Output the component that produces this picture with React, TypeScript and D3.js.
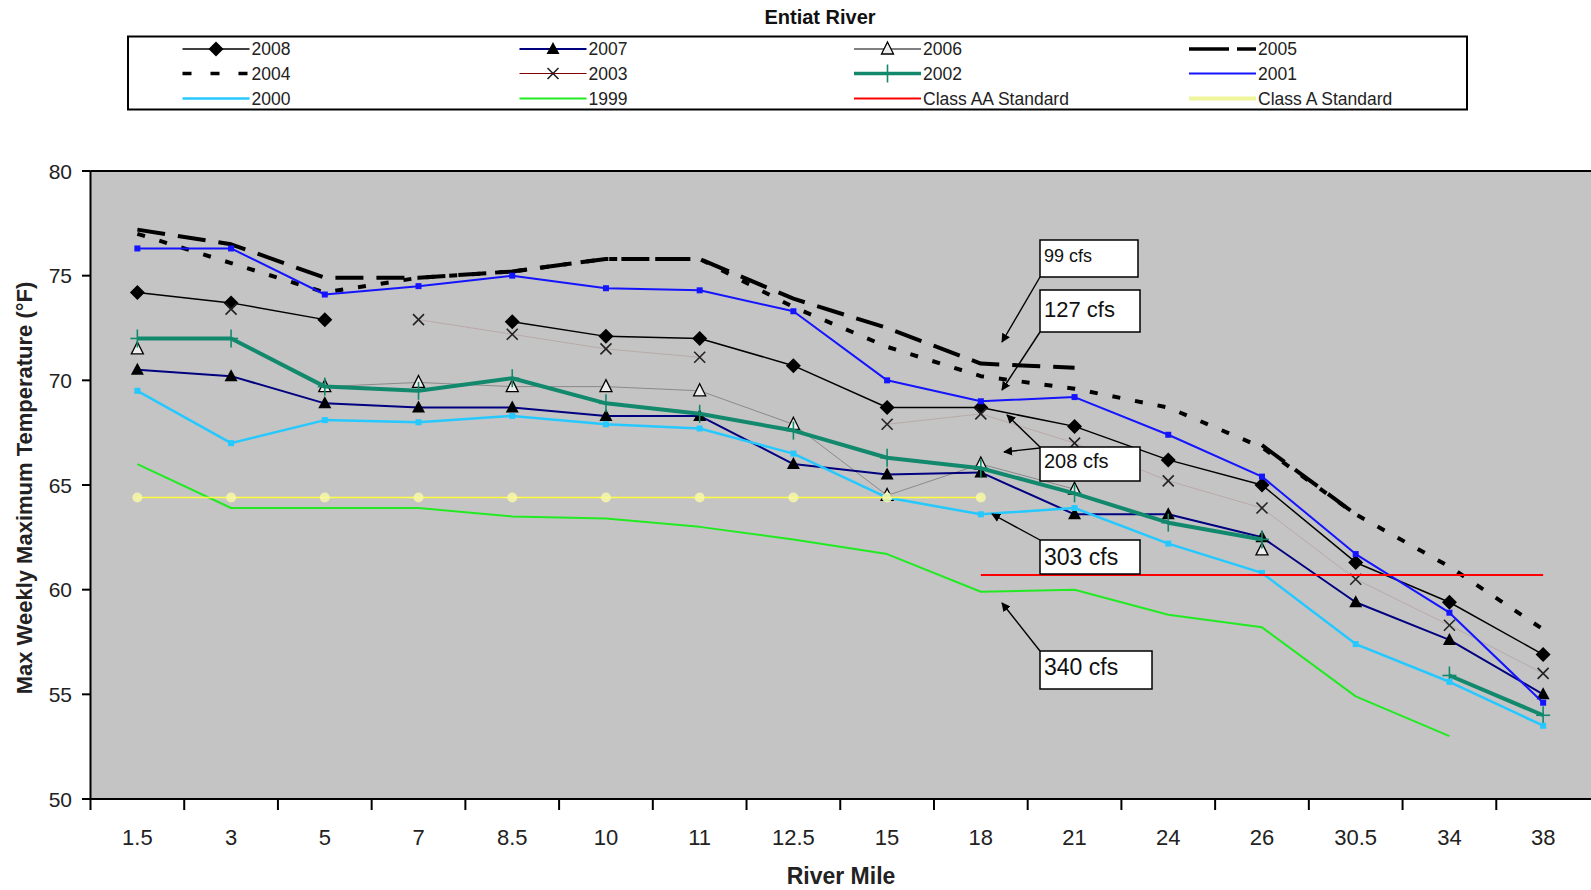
import React from 'react';
import * as d3 from 'd3';

const categories = ["1.5", "3", "5", "7", "8.5", "10", "11", "12.5", "15", "18", "21", "24", "26", "30.5", "34", "38"];
const y2008 = [74.2, 73.7, 72.9, null, 72.8, 72.1, 72.0, 70.7, 68.7, 68.7, 67.8, 66.2, 65.0, 61.3, 59.4, 56.9];
const y2007 = [70.5, 70.2, 68.9, 68.7, 68.7, 68.3, 68.3, 66.0, 65.5, 65.6, 63.6, 63.6, 62.5, 59.4, 57.6, 55.0];
const y2006 = [71.5, null, 69.7, 69.9, 69.7, 69.7, 69.5, 67.9, 64.5, 66.0, 64.8, null, 61.9, null, null, null];
const y2005 = [77.2, 76.5, 74.9, 74.9, 75.2, 75.8, 75.8, 73.9, 72.5, 70.8, 70.6, null, 66.9, 63.6, null, null];
const y2004 = [77.0, 75.6, 74.2, 74.9, 75.2, 75.8, 75.8, 73.5, 71.6, 70.2, 69.6, 68.7, 66.8, 63.6, 61.1, 58.1];
const y2003 = [null, 73.4, null, 72.9, 72.2, 71.5, 71.1, null, 67.9, 68.4, 67.0, 65.2, 63.9, 60.5, 58.3, 56.0];
const y2002 = [72.0, 72.0, 69.7, 69.5, 70.1, 68.9, 68.4, 67.6, 66.3, 65.8, 64.6, 63.2, 62.4, null, 55.9, 54.0];
const y2001 = [76.3, 76.3, 74.1, 74.5, 75.0, 74.4, 74.3, 73.3, 70.0, 69.0, 69.2, 67.4, 65.4, 61.7, 58.9, 54.6];
const y2000 = [69.5, 67.0, 68.1, 68.0, 68.3, 67.9, 67.7, 66.5, 64.4, 63.6, 63.9, 62.2, 60.8, 57.4, 55.6, 53.5];
const y1999 = [66.0, 63.9, 63.9, 63.9, 63.5, 63.4, 63.0, 62.4, 61.7, 59.9, 60.0, 58.8, 58.2, 54.9, 53.0, null];
const classAA = [null, null, null, null, null, null, null, null, null, 60.7, 60.7, 60.7, 60.7, 60.7, 60.7, 60.7];
const classA = [64.4, 64.4, 64.4, 64.4, 64.4, 64.4, 64.4, 64.4, 64.4, 64.4, null, null, null, null, null, null];
const yTicks = [50, 55, 60, 65, 70, 75, 80];

const annotations = [
  { label: "99 cfs", box: [1040, 240, 98, 37], size: 18, base: 262, arrows: [[1040, 277, 1002, 342]] },
  { label: "127 cfs", box: [1040, 290, 100, 42], size: 22, base: 317, arrows: [[1040, 332, 1002, 390]] },
  { label: "208 cfs", box: [1040, 447, 100, 34], size: 20, base: 468, arrows: [[1040, 447, 1007, 415], [1040, 448, 1004, 452]] },
  { label: "303 cfs", box: [1040, 540, 100, 34], size: 23, base: 565, arrows: [[1040, 540, 992, 514]] },
  { label: "340 cfs", box: [1040, 651, 112, 38], size: 23, base: 675, arrows: [[1040, 651, 1002, 603]] },
];

const FONT = "'Liberation Sans', Arial, Helvetica, sans-serif";

const x = d3.scaleBand<string>().domain(categories).range([90.5, 1590]);
const y = d3.scaleLinear().domain([50, 80]).range([799, 171]);
const cx = (i: number) => (x(categories[i]) as number) + x.bandwidth() / 2;

type Series = {
  name: string; values: (number | null)[]; color: string; width: number;
  dash?: string; legendDash?: string; opacity?: number; marker: string;
  legendColor?: string; legendWidth?: number;
};

const series: Series[] = [
  { name: "2008", values: y2008, color: "#000", width: 1.5, marker: "diamond" },
  { name: "2007", values: y2007, color: "#000080", width: 2, marker: "tri" },
  { name: "2006", values: y2006, color: "#000", width: 1, opacity: 0.3, marker: "triOpen" },
  { name: "2005", values: y2005, color: "#000", width: 4, dash: "28,13", legendDash: "40,8", marker: "none" },
  { name: "2004", values: y2004, color: "#000", width: 4, dash: "8,15", legendDash: "9,19", marker: "none" },
  { name: "2003", values: y2003, color: "#800000", width: 1, opacity: 0.14, marker: "x" },
  { name: "2002", values: y2002, color: "#12896d", width: 4, marker: "plus" },
  { name: "2001", values: y2001, color: "#1414ff", width: 2, marker: "sq" },
  { name: "2000", values: y2000, color: "#25c8ff", width: 2.5, marker: "sq" },
  { name: "1999", values: y1999, color: "#22ea22", width: 2, marker: "none" },
  { name: "Class AA Standard", values: classAA, color: "#ff0000", width: 2, marker: "none" },
  { name: "Class A Standard", values: classA, color: "#ffff40", width: 1.5, marker: "dot", legendColor: "#eef59a", legendWidth: 4 },
];

function Marker({ type, px, py, color, k }: { type: string; px: number; py: number; color: string; k: string }) {
  switch (type) {
    case "diamond":
      return <path key={k} d={`M${px},${py - 7.5}L${px + 7.5},${py}L${px},${py + 7.5}L${px - 7.5},${py}Z`} fill="#000" />;
    case "tri":
      return <path key={k} d={`M${px},${py - 7}L${px + 6.5},${py + 5}L${px - 6.5},${py + 5}Z`} fill="#000" />;
    case "triOpen":
      return <path key={k} d={`M${px},${py - 7}L${px + 6},${py + 5}L${px - 6},${py + 5}Z`} fill="#eeeeee" stroke="#000" strokeWidth={1.3} />;
    case "x":
      return (
        <g key={k} stroke="#222" strokeWidth={1.6}>
          <line x1={px - 5.5} y1={py - 5.5} x2={px + 5.5} y2={py + 5.5} />
          <line x1={px - 5.5} y1={py + 5.5} x2={px + 5.5} y2={py - 5.5} />
        </g>
      );
    case "plus":
      return (
        <g key={k} stroke={color} strokeWidth={1.6}>
          <line x1={px} y1={py - 9} x2={px} y2={py + 9} />
          <line x1={px - 7} y1={py} x2={px + 7} y2={py} />
        </g>
      );
    case "sq":
      return <rect key={k} x={px - 3} y={py - 3} width={6} height={6} fill={color} />;
    case "dot":
      return <circle key={k} cx={px} cy={py} r={5} fill="#f8f8a8" opacity={0.85} />;
    default:
      return null;
  }
}

export default function App() {
  const line = d3.line<number | null>()
    .defined((d) => d != null)
    .x((_, i) => cx(i))
    .y((d) => y(d as number));

  const legendCols = [182.5, 519.5, 854, 1189];
  const legendRows = [49, 73.5, 98.5];
  const legLen = 67;

  return (
    <svg width={1591} height={890} style={{ position: "absolute", left: 0, top: 0, background: "#fff" }} fontFamily={FONT}>
      <defs>
        <marker id="ah" viewBox="0 0 10 10" refX="9" refY="5" markerWidth="9" markerHeight="9" markerUnits="userSpaceOnUse" orient="auto">
          <path d="M0,0L10,5L0,10Z" fill="#000" />
        </marker>
      </defs>
      <text x={820} y={24} textAnchor="middle" fontSize={20} fontWeight="bold" fill="#111">Entiat River</text>

      {/* legend */}
      <rect x={128} y={36.5} width={1339} height={73} fill="#fff" stroke="#000" strokeWidth={2} />
      {series.map((s, i) => {
        const col = i % 4, row = Math.floor(i / 4);
        const x0 = legendCols[col], yy = legendRows[row];
        const mid = x0 + legLen / 2;
        return (
          <g key={s.name}>
            <line x1={x0} y1={yy} x2={x0 + legLen} y2={yy}
              stroke={s.legendColor || s.color} strokeWidth={s.legendWidth || Math.min(s.width, 3.5)}
              strokeDasharray={s.legendDash || s.dash} />
            {s.marker !== "dot" && s.marker !== "sq" && (
              <Marker type={s.marker} px={mid} py={yy} color={s.color} k={"lm" + i} />
            )}
            <text x={x0 + legLen + 2} y={yy + 6} fontSize={17.5} fill="#222">{s.name}</text>
          </g>
        );
      })}

      {/* plot area */}
      <rect x={90.5} y={171} width={1500.5} height={628} fill="#c4c4c4" />
      <line x1={90.5} y1={171} x2={1591} y2={171} stroke="#000" strokeWidth={2} />

      {series.map((s, i) => (
        <g key={"s" + i}>
          <path d={line(s.values) || ""} fill="none" stroke={s.color} strokeWidth={s.width}
            strokeDasharray={s.dash} opacity={s.opacity ?? 1} strokeLinejoin="round" />
          {s.values.map((v, j) => v == null ? null : (
            <Marker key={"m" + i + "_" + j} type={s.marker} px={cx(j)} py={y(v)} color={s.color} k={"m" + i + "_" + j} />
          ))}
        </g>
      ))}

      {/* annotations */}
      {annotations.map((a, i) => (
        <g key={"a" + i}>
          {a.arrows.map((ar, j) => (
            <line key={j} x1={ar[0]} y1={ar[1]} x2={ar[2]} y2={ar[3]} stroke="#000" strokeWidth={1.4} markerEnd="url(#ah)" />
          ))}
          <rect x={a.box[0]} y={a.box[1]} width={a.box[2]} height={a.box[3]} fill="#fff" stroke="#000" strokeWidth={1.5} />
          <text x={a.box[0] + 4} y={a.base} fontSize={a.size} fill="#111">{a.label}</text>
        </g>
      ))}

      {/* axes */}
      <line x1={90.5} y1={171} x2={90.5} y2={800} stroke="#000" strokeWidth={2} />
      <line x1={89.5} y1={799} x2={1591} y2={799} stroke="#000" strokeWidth={2} />
      {yTicks.map((t) => (
        <g key={"yt" + t}>
          <line x1={82} y1={y(t)} x2={90.5} y2={y(t)} stroke="#000" strokeWidth={2} />
          <text x={72} y={y(t) + 7.5} textAnchor="end" fontSize={21} fill="#222">{t}</text>
        </g>
      ))}
      {categories.map((c, i) => (
        <g key={"xt" + c}>
          <line x1={x(c) as number} y1={799} x2={x(c) as number} y2={810} stroke="#000" strokeWidth={2} />
          <text x={cx(i)} y={845} textAnchor="middle" fontSize={22} fill="#222">{c}</text>
        </g>
      ))}
      <text x={841} y={884} textAnchor="middle" fontSize={23} fontWeight="bold" fill="#222">River Mile</text>
      <text transform="translate(32,488) rotate(-90)" textAnchor="middle" fontSize={22} fontWeight="bold" fill="#222">
        Max Weekly Maximum Temperature (°F)
      </text>
    </svg>
  );
}
